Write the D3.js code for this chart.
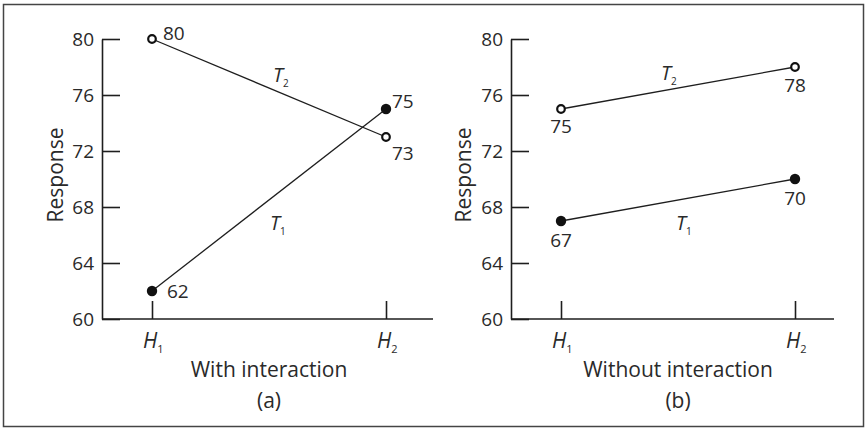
<!DOCTYPE html>
<html>
<head>
<meta charset="utf-8">
<script src="https://cdn.jsdelivr.net/npm/d3@7"></script>
<style>
  body { margin: 0; background: #fff; }
  svg { display: block; }
  text { font-family: "Open Sans", Lato, sans-serif; fill: #2a2a2a; }
</style>
</head>
<body>
<div id="chart"></div>
<script>
// Data
var levels = ["H1", "H2"];
var yTicks = [60, 64, 68, 72, 76, 80];
var withT1 = [62, 75];
var withT2 = [80, 73];
var withoutT1 = [67, 70];
var withoutT2 = [75, 78];

var attrs = {
  width: 868,
  height: 429,
  top: 39,
  bottom: 319,
  stroke: "#1e1e1e",
  font: "\"Open Sans\", Lato, sans-serif"
};

var svg = d3.select("#chart").append("svg")
  .attr("width", attrs.width)
  .attr("height", attrs.height);

// outer frame
svg.append("rect")
  .attr("x", 3.5).attr("y", 4.5)
  .attr("width", 860).attr("height", 422)
  .attr("fill", "none")
  .attr("stroke", "#444")
  .attr("stroke-width", 1.5);

var y = d3.scaleLinear().domain([60, 80]).range([attrs.bottom, attrs.top]);

// label placement: per panel, per series, per point -> [dx, dy, anchor]
var panels = [
  {
    x0: 102, x1: 433, title: "With interaction", tag: "(a)", yLabelX: 63,
    series: [
      { name: "1", values: withT1, open: false,
        lab: [[15, 7, "start"], [6, -1, "start"]],
        tx: 270, ty: 230 },
      { name: "2", values: withT2, open: true,
        lab: [[11, 1, "start"], [6, 23, "start"]],
        tx: 273, ty: 82 }
    ]
  },
  {
    x0: 511, x1: 834, title: "Without interaction", tag: "(b)", yLabelX: 471,
    series: [
      { name: "1", values: withoutT1, open: false,
        lab: [[0, 26, "middle"], [0, 26, "middle"]],
        tx: 676, ty: 230 },
      { name: "2", values: withoutT2, open: true,
        lab: [[0, 24, "middle"], [0, 25, "middle"]],
        tx: 661, ty: 80 }
    ]
  }
];

panels.forEach(function (p) {
  var g = svg.append("g");
  var x = d3.scalePoint().domain(levels).range([p.x0 + 50, p.x0 + 284]);

  // y axis
  var yAxis = d3.axisLeft(y).tickValues(yTicks).tickSize(-18).tickSizeOuter(0).tickPadding(8);
  var ya = g.append("g").attr("transform", "translate(" + p.x0 + ",0)").call(yAxis);
  ya.select(".domain").attr("stroke", attrs.stroke).attr("stroke-width", 1.6);
  ya.selectAll(".tick line").attr("stroke", attrs.stroke).attr("stroke-width", 1.6);
  ya.selectAll(".tick text").attr("font-size", 19).attr("fill", "#2a2a2a")
    .attr("font-family", attrs.font);

  // x axis
  var xAxis = d3.axisBottom(x).tickSize(-18).tickSizeOuter(0).tickFormat("");
  var xa = g.append("g").attr("transform", "translate(0," + attrs.bottom + ")").call(xAxis);
  xa.select(".domain").remove();
  xa.selectAll(".tick line").attr("stroke", attrs.stroke).attr("stroke-width", 1.6);
  g.append("line")
    .attr("x1", p.x0).attr("x2", p.x1)
    .attr("y1", attrs.bottom).attr("y2", attrs.bottom)
    .attr("stroke", attrs.stroke).attr("stroke-width", 1.6);

  // x tick labels with subscripts
  levels.forEach(function (lv) {
    var t = g.append("text")
      .attr("x", x(lv) - 9).attr("y", attrs.bottom + 29)
      .attr("font-size", 21);
    t.append("tspan").attr("font-style", "italic").text(lv[0]);
    t.append("tspan").attr("font-size", 11).attr("dy", 5).text(lv.slice(1));
  });

  var mid = (x(levels[0]) + x(levels[1])) / 2;
  g.append("text").attr("x", mid).attr("y", attrs.bottom + 58)
    .attr("text-anchor", "middle").attr("font-size", 21).text(p.title);
  g.append("text").attr("x", mid).attr("y", attrs.bottom + 89)
    .attr("text-anchor", "middle").attr("font-size", 21).text(p.tag);

  g.append("text")
    .attr("transform", "translate(" + p.yLabelX + "," + ((attrs.top + attrs.bottom) / 2 - 4) + ") rotate(-90)")
    .attr("text-anchor", "middle").attr("font-size", 21).text("Response");

  var line = d3.line().x(function (d, i) { return x(levels[i]); }).y(function (d) { return y(d); });

  p.series.forEach(function (s) {
    g.append("path").datum(s.values)
      .attr("d", line)
      .attr("fill", "none")
      .attr("stroke", attrs.stroke)
      .attr("stroke-width", 1.3);

    g.selectAll(null).data(s.values).enter().append("circle")
      .attr("cx", function (d, i) { return x(levels[i]); })
      .attr("cy", function (d) { return y(d); })
      .attr("r", s.open ? 3.8 : 5.2)
      .attr("fill", s.open ? "#fff" : "#111")
      .attr("stroke", "#111")
      .attr("stroke-width", s.open ? 2.2 : 0);

    g.selectAll(null).data(s.values).enter().append("text")
      .attr("x", function (d, i) { return x(levels[i]) + s.lab[i][0]; })
      .attr("y", function (d, i) { return y(d) + s.lab[i][1]; })
      .attr("text-anchor", function (d, i) { return s.lab[i][2]; })
      .attr("font-size", 19)
      .text(function (d) { return d; });

    var lt = g.append("text").attr("x", s.tx).attr("y", s.ty).attr("font-size", 20);
    lt.append("tspan").attr("font-style", "italic").text("T");
    lt.append("tspan").attr("font-size", 10).attr("dy", 5).text(s.name);
  });
});
</script>
</body>
</html>
